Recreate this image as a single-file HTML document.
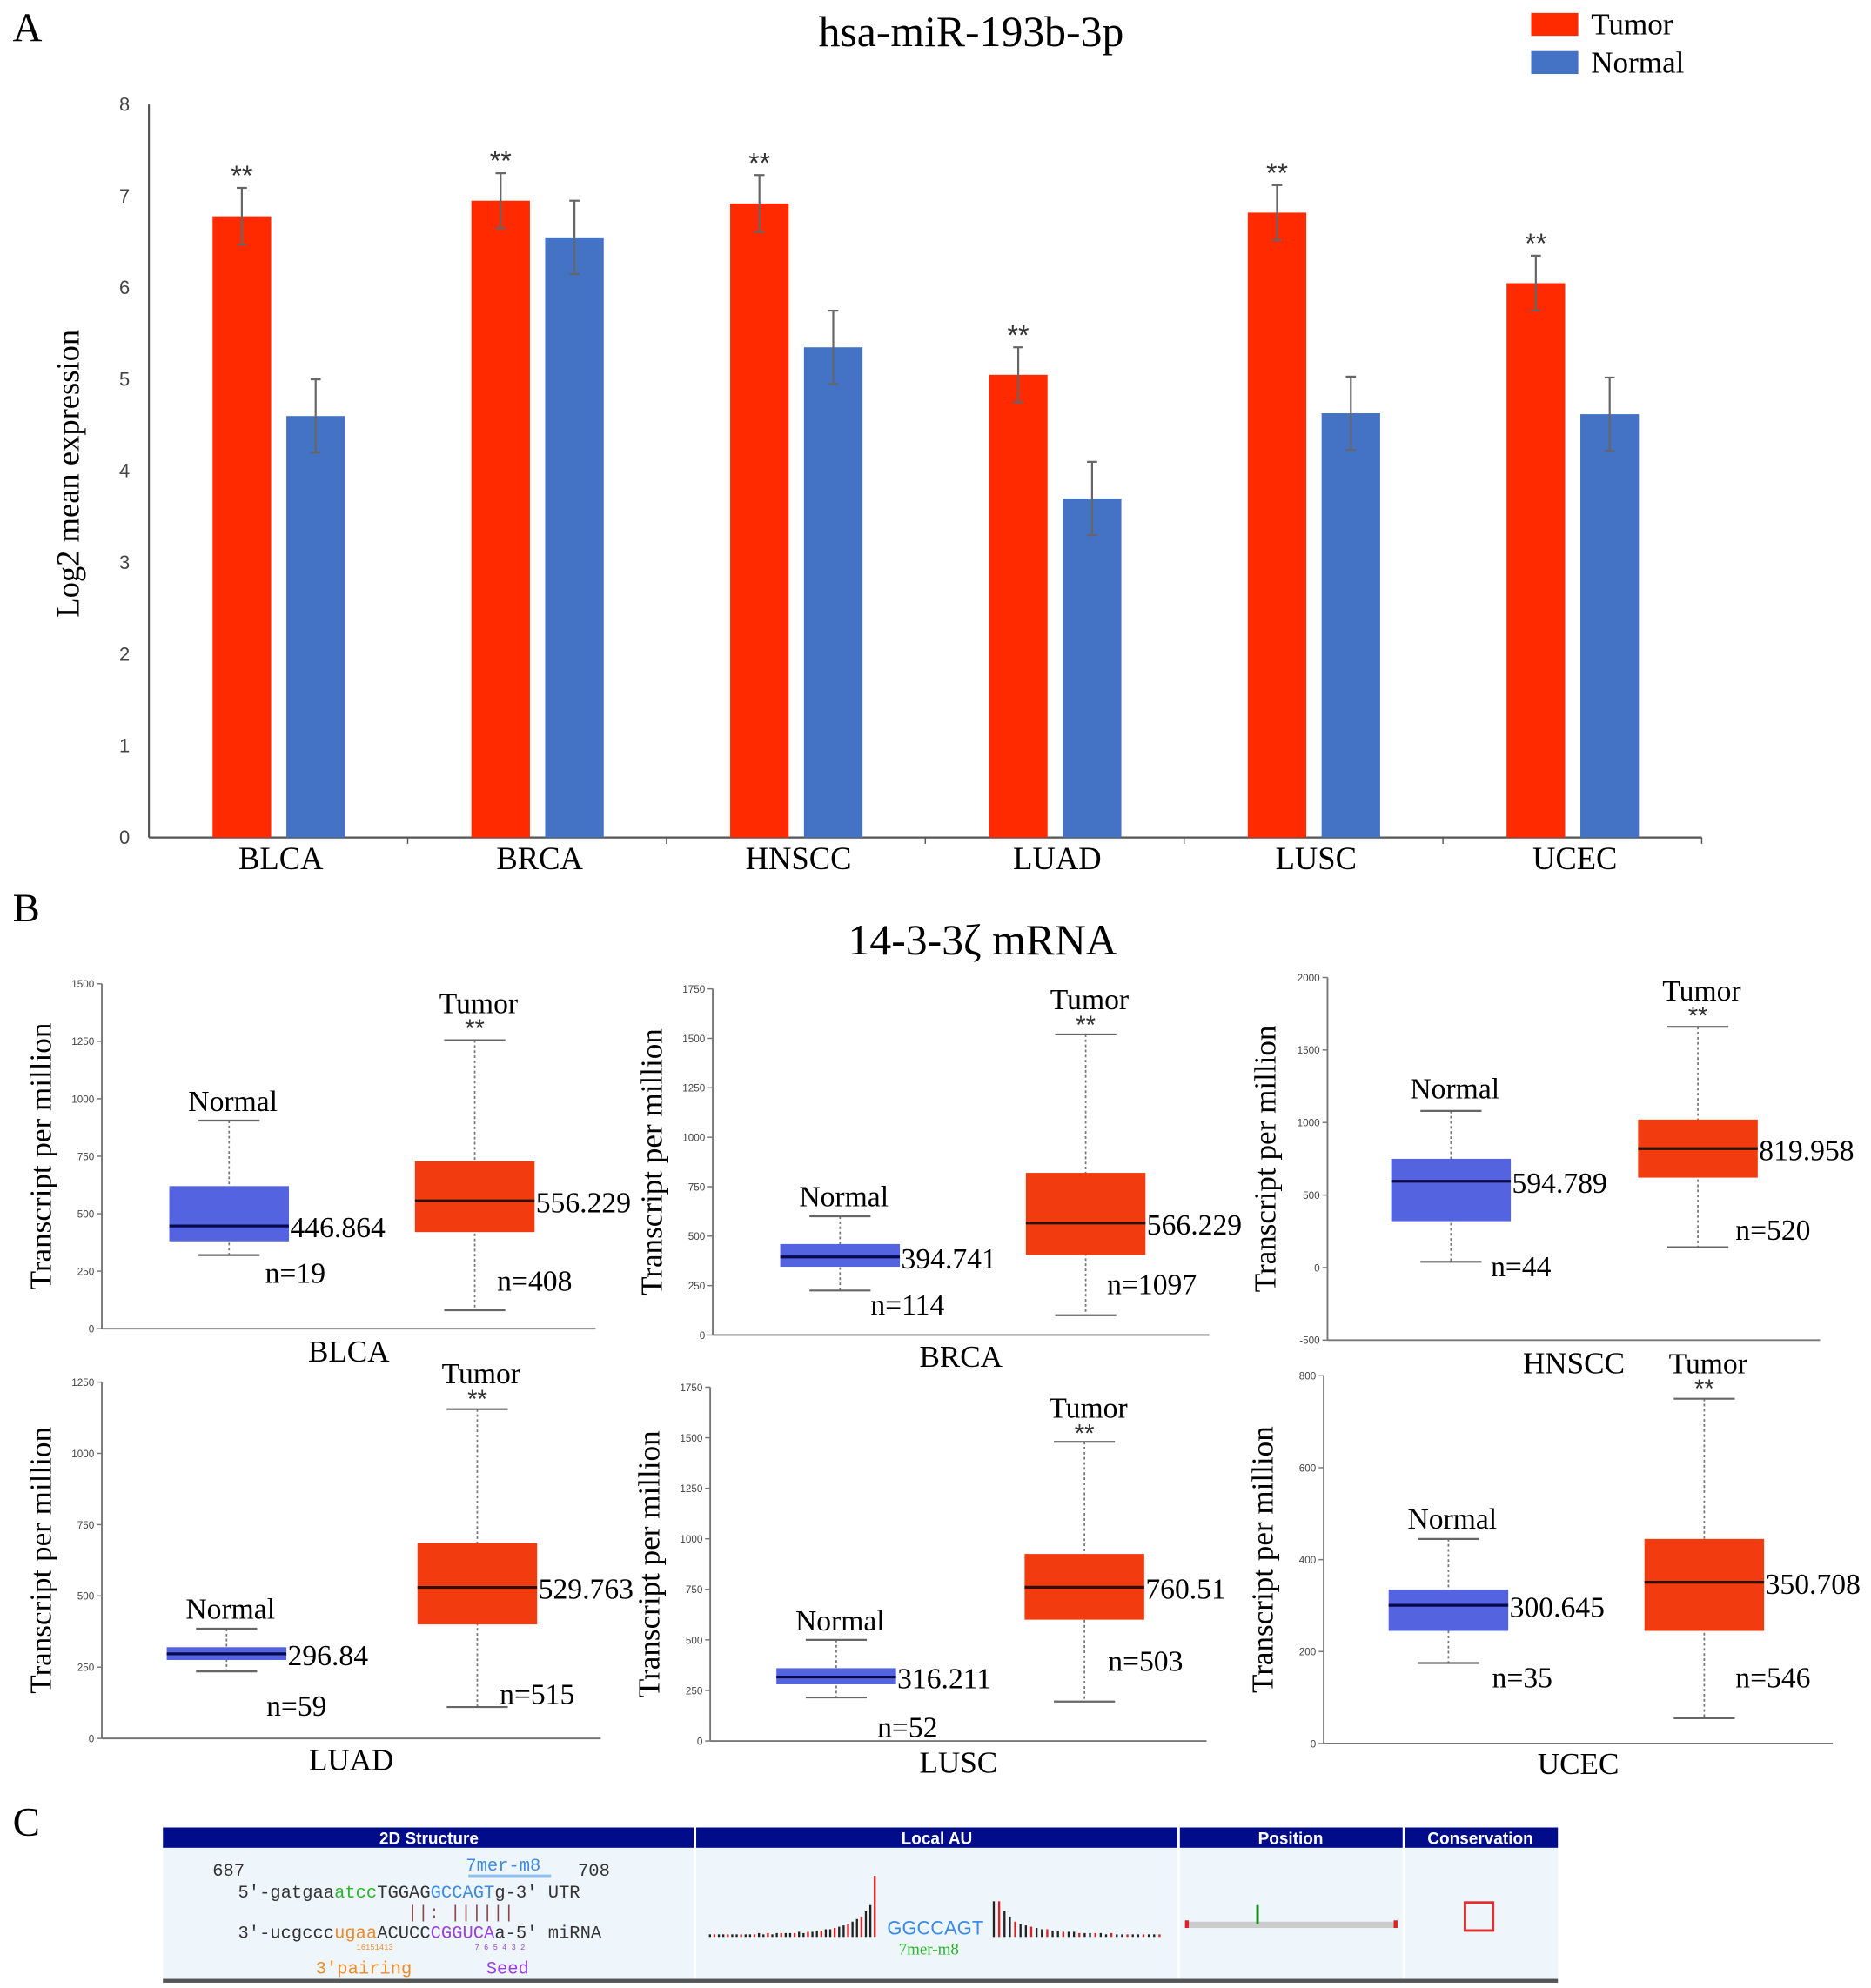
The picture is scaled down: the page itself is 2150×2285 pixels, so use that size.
<!DOCTYPE html>
<html><head><meta charset="utf-8"><style>
html,body{margin:0;padding:0;background:#fff;}
svg{display:block;}
text{font-family:"Liberation Serif",serif;}
.sans{font-family:"Liberation Sans",sans-serif;}
.mono{font-family:"Liberation Mono",monospace;}
</style></head><body>
<svg id="fig" width="2150" height="2285" viewBox="0 0 1470 1562" xmlns="http://www.w3.org/2000/svg">
<rect width="1470" height="1562" fill="#fff"/>
<text x="10" y="32" font-size="32">A</text>
<text x="763" y="36" font-size="34" text-anchor="middle">hsa-miR-193b-3p</text>
<g>
<rect x="1203" y="10" width="37" height="18" fill="#ff2a00"/>
<text x="1250" y="27" font-size="24">Tumor</text>
<rect x="1203" y="40" width="37" height="18" fill="#4472c4"/>
<text x="1250" y="57" font-size="24">Normal</text>
</g>
<text transform="translate(62,372) rotate(-90)" font-size="25" text-anchor="middle">Log2 mean expression</text>
<g id="barA"></g>

<text x="10" y="724" font-size="32">B</text>
<text x="772" y="750" font-size="34" text-anchor="middle">14-3-3ζ mRNA</text>
<g id="boxB"></g>

<text x="10" y="1442" font-size="32">C</text>
<g>
<rect x="128" y="1436" width="1096" height="16" fill="#000c8a"/>
<rect x="128" y="1452" width="1096" height="103" fill="#eef6fc"/>
<line x1="546" y1="1436" x2="546" y2="1555" stroke="#fff" stroke-width="2"/>
<line x1="926" y1="1436" x2="926" y2="1555" stroke="#fff" stroke-width="2"/>
<line x1="1103" y1="1436" x2="1103" y2="1555" stroke="#fff" stroke-width="2"/>
<rect x="128" y="1555" width="1096" height="3" fill="#555"/>
<text class="sans" x="337" y="1449" font-size="13" font-weight="bold" fill="#fff" text-anchor="middle">2D Structure</text>
<text class="sans" x="736" y="1449" font-size="13" font-weight="bold" fill="#fff" text-anchor="middle">Local AU</text>
<text class="sans" x="1014" y="1449" font-size="13" font-weight="bold" fill="#fff" text-anchor="middle">Position</text>
<text class="sans" x="1163" y="1449" font-size="13" font-weight="bold" fill="#fff" text-anchor="middle">Conservation</text>
<g class="mono" font-size="14" fill="#333">
<text class="mono" x="167" y="1474">687</text>
<text class="mono" x="366" y="1470" fill="#3b8be8">7mer-m8</text>
<line x1="368" y1="1474" x2="433" y2="1474" stroke="#8ec0f0" stroke-width="2"/>
<text class="mono" x="454" y="1474">708</text>
<text class="mono" x="187" y="1491">5'-gatgaa<tspan fill="#2bb52b">atcc</tspan>TGGAG<tspan fill="#3b8be8">GCCAGT</tspan>g-3' UTR</text>
<text class="mono" x="320" y="1507" fill="#8b4a4a">||: ||||||</text>
<text class="mono" x="187" y="1523">3'-ucgccc<tspan fill="#f08a2a">ugaa</tspan>ACUCC<tspan fill="#9a40e0">CGGUCA</tspan>a-5' miRNA</text>
<text class="mono" x="280" y="1532" font-size="6" fill="#f08a2a">16151413</text>
<text class="mono" x="373" y="1532" font-size="6" fill="#9a40e0">7 6 5 4 3 2</text>
<text class="mono" x="248" y="1551" fill="#f08a2a">3'pairing</text>
<text class="mono" x="382" y="1551" fill="#9a40e0">Seed</text>
</g>
<g id="au"></g>
<text class="sans" x="697" y="1520" font-size="15" fill="#3b8be8">GGCCAGT</text>
<text x="706" y="1536" font-size="13" fill="#2bb52b">7mer-m8</text>
<rect x="932" y="1510" width="165" height="5" fill="#ccc"/>
<rect x="931" y="1509" width="3" height="6" fill="#d22"/><rect x="1095" y="1509" width="3" height="6" fill="#d22"/>
<line x1="988" y1="1497" x2="988" y2="1512" stroke="#1a8a1a" stroke-width="2"/>
<rect x="1151" y="1495" width="22" height="22" fill="none" stroke="#e03030" stroke-width="2"/>
</g>
</svg>
<script>
var NS='http://www.w3.org/2000/svg';
function mk(p,tag,at,txt){var e=document.createElementNS(NS,tag);for(var k in at)e.setAttribute(k,at[k]);if(txt!==undefined)e.textContent=txt;p.appendChild(e);return e;}

// ---- Panel A data ----
var categories=['BLCA','BRCA','HNSCC','LUAD','LUSC','UCEC'];
var tumorVals=[6.78,6.95,6.92,5.05,6.82,6.05];
var tumorErr=[0.31,0.30,0.31,0.30,0.30,0.30];
var normalVals=[4.6,6.55,5.35,3.7,4.63,4.62];
var normalErr=[0.4,0.4,0.4,0.4,0.4,0.4];
var yTicksA=[0,1,2,3,4,5,6,7,8];

(function(){
var g=document.getElementById('barA');
var x0=117,x1=1337,yb=658,yt=82,vmax=8;
function y(v){return yb-(v/vmax)*(yb-yt);}
var gw=(x1-x0)/categories.length;
mk(g,'line',{x1:x0,y1:yt,x2:x0,y2:yb,stroke:'#555','stroke-width':1.5});
mk(g,'line',{x1:x0,y1:yb,x2:x1,y2:yb,stroke:'#555','stroke-width':1.5});
yTicksA.forEach(function(t){
 var e=mk(g,'text',{x:102,y:y(t)+5,'font-size':15,'text-anchor':'end',fill:'#444','class':'sans'},String(t));
 
 
});
categories.forEach(function(c,i){
 var s=x0+i*gw;
 mk(g,'line',{x1:s+gw,y1:yb,x2:s+gw,y2:yb+5,stroke:'#555'});
 var lab=mk(g,'text',{x:s+gw/2+2,y:683,'font-size':25,'text-anchor':'middle'},c);
 
 
 [[tumorVals,tumorErr,'#ff2a00',50,'tumor'],[normalVals,normalErr,'#4472c4',108,'normal']].forEach(function(sr){
  var v=sr[0][i],er=sr[1][i],bx=s+sr[3],w=46;
  var r=mk(g,'rect',{x:bx,y:y(v),width:w,height:yb-y(v),fill:sr[2]});
  
  
  var cx=bx+w/2;
  mk(g,'line',{x1:cx,y1:y(v+er),x2:cx,y2:y(v-er),stroke:'#666','stroke-width':1.5});
  mk(g,'line',{x1:cx-4,y1:y(v+er),x2:cx+4,y2:y(v+er),stroke:'#666','stroke-width':1.5});
  mk(g,'line',{x1:cx-4,y1:y(v-er),x2:cx+4,y2:y(v-er),stroke:'#666','stroke-width':1.5});
  if(sr[4]==='tumor'){
   var st=mk(g,'text',{x:cx,y:y(v+er)-2,'font-size':22,'text-anchor':'middle',fill:'#333','class':'sans'},'**');
   
   
  }
 });
});
})();

// ---- Panel B data ----
var boxCats=['BLCA','BRCA','HNSCC','LUAD','LUSC','UCEC'];
var normalWhiskLo=[320,225,40,235,215,175];
var normalQ1=[380,345,320,275,280,245];
var normalMed=[446.864,394.741,594.789,296.84,316.211,300.645];
var normalQ3=[620,460,750,320,360,335];
var normalWhiskHi=[905,600,1080,385,500,445];
var tumorWhiskLo=[80,100,140,110,195,55];
var tumorQ1=[420,405,620,400,600,245];
var tumorMed=[556.229,566.229,819.958,529.763,760.51,350.708];
var tumorQ3=[728,820,1020,685,925,445];
var tumorWhiskHi=[1255,1520,1660,1155,1480,750];
var normalN=['n=19','n=114','n=44','n=59','n=52','n=35'];
var tumorN=['n=408','n=1097','n=520','n=515','n=503','n=546'];
var medLabels=[['446.864','556.229'],['394.741','566.229'],['594.789','819.958'],['296.84','529.763'],['316.211','760.51'],['300.645','350.708']];
var yTickLabelsB=[[0,250,500,750,1000,1250,1500],[0,250,500,750,1000,1250,1500,1750],[-500,0,500,1000,1500,2000],[0,250,500,750,1000,1250],[0,250,500,750,1000,1250,1500,1750],[0,200,400,600,800]];

// layout only (pixel frames per panel)
var frames=[
 {l:80,r:468,top:773,bot:1044,vmin:0,vmax:1500,nc:180,tc:373,nl:865,tl:788,nnx:232,nny:1000,tnx:420,tny:1006,cy:1062,ylx:40},
 {l:560,r:950,top:777,bot:1049,vmin:0,vmax:1750,nc:660,tc:853,nl:940,tl:785,nnx:713,nny:1025,tnx:905,tny:1009,cy:1066,ylx:520},
 {l:1043,r:1430,top:768,bot:1053,vmin:-500,vmax:2000,nc:1140,tc:1334,nl:855,tl:778,nnx:1195,nny:995,tnx:1393,tny:966,cy:1071,ylx:1002},
 {l:80,r:472,top:1086,bot:1366,vmin:0,vmax:1250,nc:178,tc:375,nl:1264,tl:1079,nnx:233,nny:1340,tnx:422,tny:1331,cy:1383,ylx:40},
 {l:558,r:948,top:1090,bot:1368,vmin:0,vmax:1750,nc:657,tc:852,nl:1273,tl:1106,nnx:713,nny:1357,tnx:900,tny:1305,cy:1385,ylx:518},
 {l:1040,r:1440,top:1081,bot:1370,vmin:0,vmax:800,nc:1138,tc:1339,nl:1193,tl:1071,nnx:1196,nny:1318,tnx:1393,tny:1318,cy:1386,ylx:1000}
];
(function(){
var root=document.getElementById('boxB');
boxCats.forEach(function(c,i){
 var f=frames[i];
 var g=mk(root,'g',{});
 
 
 function y(v){return f.bot-(v-f.vmin)/(f.vmax-f.vmin)*(f.bot-f.top);}
 mk(g,'line',{x1:f.l,y1:f.top,x2:f.l,y2:f.bot,stroke:'#777','stroke-width':1.3});
 var y0=y(f.vmin);
 mk(g,'line',{x1:f.l,y1:f.bot,x2:f.r,y2:f.bot,stroke:'#777','stroke-width':1.3});
 yTickLabelsB[i].forEach(function(t){
  mk(g,'line',{x1:f.l-4,y1:y(t),x2:f.l,y2:y(t),stroke:'#777'});
  var e=mk(g,'text',{x:f.l-6,y:y(t)+3,'font-size':8,'text-anchor':'end',fill:'#444','class':'sans'},String(t));
  
  
 });
 var yl=mk(g,'text',{transform:'translate('+f.ylx+','+((f.top+f.bot)/2)+') rotate(-90)','font-size':24,'text-anchor':'middle'},'Transcript per million');
 
 
 var cl=mk(g,'text',{x:(f.l+f.r)/2,y:f.cy+8,'font-size':24,'text-anchor':'middle'},c);
 
 
 var sets=[
  {cx:f.nc,lo:normalWhiskLo[i],q1:normalQ1[i],md:normalMed[i],q3:normalQ3[i],hi:normalWhiskHi[i],col:'#5464e0',mc:'#0a0a4a',name:'normal',lab:'Normal',ly:f.nl,nx:f.nnx,ny:f.nny,n:normalN[i],ml:medLabels[i][0]},
  {cx:f.tc,lo:tumorWhiskLo[i],q1:tumorQ1[i],md:tumorMed[i],q3:tumorQ3[i],hi:tumorWhiskHi[i],col:'#f23c10',mc:'#301000',name:'tumor',lab:'Tumor',ly:f.tl,nx:f.tnx,ny:f.tny,n:tumorN[i],ml:medLabels[i][1]}
 ];
 sets.forEach(function(s){
  var hw=47;
  mk(g,'line',{x1:s.cx,y1:y(s.hi),x2:s.cx,y2:y(s.lo),stroke:'#777','stroke-width':1.2,'stroke-dasharray':'2,2'});
  mk(g,'line',{x1:s.cx-24,y1:y(s.hi),x2:s.cx+24,y2:y(s.hi),stroke:'#666','stroke-width':1.5});
  mk(g,'line',{x1:s.cx-24,y1:y(s.lo),x2:s.cx+24,y2:y(s.lo),stroke:'#666','stroke-width':1.5});
  var b=mk(g,'rect',{x:s.cx-hw,y:y(s.q3),width:2*hw,height:y(s.q1)-y(s.q3),fill:s.col});
  
  
  var m=mk(g,'line',{x1:s.cx-hw,y1:y(s.md),x2:s.cx+hw,y2:y(s.md),stroke:s.mc,'stroke-width':2.2});
  
  
  var ml=mk(g,'text',{x:s.cx+hw+1,y:y(s.md)+9,'font-size':23},s.ml);
  
  
  var gl=mk(g,'text',{x:s.cx+3,y:s.ly+8,'font-size':23,'text-anchor':'middle'},s.lab);
  
  
  var nl=mk(g,'text',{x:s.nx,y:s.ny+8,'font-size':23,'text-anchor':'middle'},s.n);
  
  
  if(s.name==='tumor'){
   var st=mk(g,'text',{x:s.cx,y:s.ly+27,'font-size':20,'text-anchor':'middle','class':'sans',fill:'#333'},'**');
   
   
  }
 });
});
})();

// ---- Local AU bars (decorative profile values) ----
var auLeft=[2,2,2,2,2,2,2,2,2,2,2,3,2,3,2,3,3,3,3,3,4,3,4,4,5,5,6,6,7,8,9,10,12,14,16,20,25,48];
var auRight=[28,28,20,16,12,10,9,8,7,6,6,5,5,4,4,4,3,3,3,3,3,2,3,2,2,2,2,2,2,2,2,2];
(function(){
var g=document.getElementById('au');
var base=1522;
auLeft.forEach(function(v,i){
 var x=557+i*3.5;
 var col=(i===auLeft.length-1)?'#e02020':(i%3===1?'#e02020':'#222');
 var b=mk(g,'rect',{x:x,y:base-v,width:1.6,height:v,fill:col});
 
 
});
auRight.forEach(function(v,i){
 var x=780+i*4.2;
 var col=(i%3===1)?'#e02020':'#222';
 var b=mk(g,'rect',{x:x,y:base-v,width:1.6,height:v,fill:col});
 
 
});
})();
</script>
</body></html>
